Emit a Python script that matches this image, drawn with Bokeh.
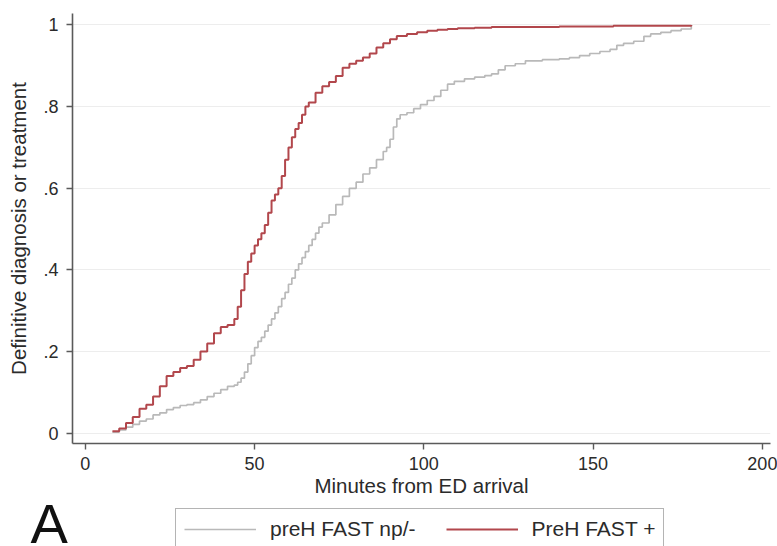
from bokeh.plotting import figure
from bokeh.layouts import column
from bokeh.models import (Range1d, FixedTicker, Legend, LegendItem, Label,
                          CustomJSTickFormatter)
from bokeh.embed import file_html
from bokeh.resources import INLINE

# ---- data (cumulative proportion vs minutes) ----
neg_minutes = [8, 10, 12, 14, 16, 18, 20, 22, 24, 26,
               28, 30, 32, 34, 36, 38, 40, 42, 44, 45,
               46, 47, 48, 49, 50, 51, 52, 53, 54, 55,
               56, 57, 58, 59, 60, 61, 62, 63, 64, 65,
               66, 67, 68, 69, 70, 72, 74, 76, 78, 80,
               82, 84, 86, 88, 89, 90, 91, 92, 93, 95,
               97, 99, 101, 103, 105, 107, 109, 112, 115, 118,
               120, 122, 124, 127, 130, 135, 140, 143, 146, 149,
               152, 155, 157, 159, 162, 165, 167, 170, 173, 176,
               179]
neg_values = [0.003, 0.008, 0.015, 0.022, 0.03, 0.035, 0.045, 0.05, 0.058, 0.063,
              0.068, 0.07, 0.075, 0.082, 0.09, 0.098, 0.107, 0.115, 0.118, 0.125,
              0.135, 0.15, 0.17, 0.19, 0.21, 0.225, 0.235, 0.25, 0.265, 0.28,
              0.295, 0.31, 0.33, 0.345, 0.365, 0.38, 0.40, 0.415, 0.43, 0.445,
              0.46, 0.475, 0.49, 0.505, 0.515, 0.535, 0.56, 0.58, 0.60, 0.615,
              0.635, 0.65, 0.67, 0.69, 0.70, 0.72, 0.75, 0.77, 0.78, 0.785,
              0.795, 0.805, 0.815, 0.825, 0.84, 0.855, 0.862, 0.868, 0.872, 0.876,
              0.88, 0.89, 0.90, 0.905, 0.912, 0.915, 0.917, 0.92, 0.925, 0.93,
              0.935, 0.94, 0.95, 0.955, 0.96, 0.972, 0.978, 0.982, 0.986, 0.99,
              1.0]

pos_minutes = [8, 10, 12, 14, 16, 18, 20, 22, 24, 26,
               28, 30, 32, 34, 36, 38, 40, 42, 44, 45,
               46, 47, 48, 49, 50, 51, 52, 53, 54, 55,
               56, 57, 58, 59, 60, 61, 62, 63, 64, 65,
               66, 68, 70, 72, 74, 76, 78, 80, 82, 84,
               86, 88, 90, 92, 95, 98, 101, 104, 107, 110,
               115, 120, 130, 140, 156, 179]
pos_values = [0.005, 0.012, 0.025, 0.04, 0.06, 0.07, 0.09, 0.115, 0.14, 0.15,
              0.16, 0.165, 0.18, 0.2, 0.22, 0.245, 0.26, 0.265, 0.28, 0.31,
              0.35, 0.39, 0.42, 0.44, 0.46, 0.475, 0.49, 0.51, 0.54, 0.57,
              0.585, 0.60, 0.63, 0.67, 0.70, 0.725, 0.745, 0.76, 0.78, 0.80,
              0.81, 0.834, 0.85, 0.86, 0.875, 0.895, 0.905, 0.912, 0.92, 0.93,
              0.945, 0.955, 0.965, 0.973, 0.978, 0.982, 0.986, 0.988, 0.99, 0.992,
              0.993, 0.995, 0.995, 0.996, 0.998, 1.0]

x_ticks = [0, 50, 100, 150, 200]
y_ticks = [0, 0.2, 0.4, 0.6, 0.8, 1.0]
series_labels = ["preH FAST np/-", "PreH FAST +"]
series_colors = ["#b9b9b9", "#b2474c"]
series_widths = [1.7, 2.0]
panel_letter = "A"

FONT = "Liberation Sans"
AXIS_COL = "#5a5a5a"
TEXT_COL = "#2b2b2b"

# ---------------- main plot ----------------
p = figure(width=777, height=502, output_backend="svg", toolbar_location=None,
           x_range=Range1d(-3.8, 202.4), y_range=Range1d(-0.025, 1.028),
           min_border_left=72, min_border_right=7, min_border_top=13,
           min_border_bottom=59)
p.frame_align = False
p.outline_line_color = None
p.background_fill_color = "white"
p.border_fill_color = "white"

p.step(neg_minutes, neg_values, mode="after", line_color=series_colors[0],
       line_width=series_widths[0])
p.step(pos_minutes, pos_values, mode="after", line_color=series_colors[1],
       line_width=series_widths[1])

p.xaxis.ticker = FixedTicker(ticks=x_ticks)
p.yaxis.ticker = FixedTicker(ticks=y_ticks)
p.yaxis.formatter = CustomJSTickFormatter(code="""
    if (Math.abs(tick) < 1e-9) return "0";
    if (Math.abs(tick - 1) < 1e-9) return "1";
    return tick.toFixed(1).replace(/^0/, "");
""")
for ax in (p.xaxis, p.yaxis):
    ax.axis_line_color = AXIS_COL
    ax.axis_line_width = 1.6
    ax.major_tick_line_color = AXIS_COL
    ax.major_tick_line_width = 1.4
    ax.major_tick_out = 6
    ax.major_tick_in = 0
    ax.minor_tick_line_color = None
    ax.major_label_text_font = FONT
    ax.major_label_text_font_size = "18px"
    ax.major_label_text_color = TEXT_COL
    ax.axis_label_text_font = FONT
    ax.axis_label_text_font_size = "20.5px"
    ax.axis_label_text_font_style = "normal"
    ax.axis_label_text_color = TEXT_COL

p.xaxis.axis_label = "Minutes from ED arrival"
p.xaxis.major_label_standoff = 7
p.xaxis.axis_label_standoff = 1
p.yaxis.axis_label = "Definitive diagnosis or treatment"
p.yaxis.major_label_standoff = 8
p.yaxis.axis_label_standoff = 10
p.yaxis.major_label_orientation = "horizontal"

p.xgrid.grid_line_color = None
p.ygrid.grid_line_color = "#ededed"
p.ygrid.grid_line_width = 1.2

# ---------------- legend strip (same series, outside its view) ----------------
leg = figure(width=777, height=44, output_backend="svg", toolbar_location=None,
             x_axis_type=None, y_axis_type=None,
             x_range=Range1d(0, 1), y_range=Range1d(0, 1),
             min_border=0, min_border_left=0, min_border_right=0,
             min_border_top=0, min_border_bottom=0)
leg.frame_align = False
leg.outline_line_color = None
leg.grid.grid_line_color = None
leg.background_fill_color = "white"
leg.border_fill_color = "white"

swatches = [
    leg.step(neg_minutes, neg_values, mode="after", line_color=series_colors[0],
             line_width=series_widths[0]),
    leg.step(pos_minutes, pos_values, mode="after", line_color=series_colors[1],
             line_width=series_widths[1]),
]

legend = Legend(items=[LegendItem(label=lab, renderers=[r])
                       for lab, r in zip(series_labels, swatches)],
                orientation="horizontal", location=(175, -4))
legend.label_text_font = FONT
legend.label_text_font_size = "21px"
legend.label_text_color = TEXT_COL
legend.glyph_width = 72
legend.label_standoff = 14
legend.spacing = 30
legend.padding = 8
legend.margin = 0
legend.border_line_color = "#6a6a6a"
legend.border_line_width = 1.5
legend.background_fill_color = "white"
legend.background_fill_alpha = 1.0
leg.add_layout(legend, "center")

leg.add_layout(Label(x=30, y=23, x_units="screen", y_units="screen",
                     text=panel_letter, text_font=FONT, text_font_size="56px",
                     text_color="#111111", text_baseline="alphabetic"))

layout = column(p, leg, spacing=0)
open("out.html", "w").write(file_html(layout, INLINE))
